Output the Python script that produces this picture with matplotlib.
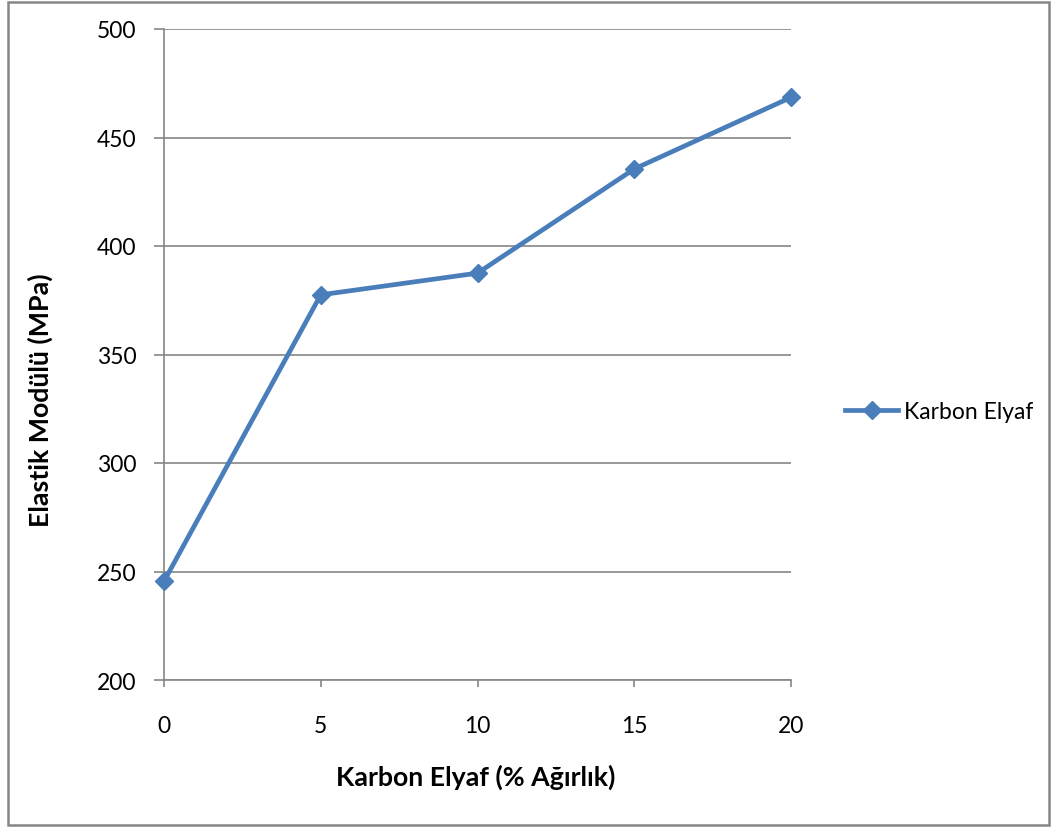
import numpy as np
import matplotlib
matplotlib.use('Agg')
from matplotlib import pyplot as plt
from matplotlib.patches import Rectangle

# data
fiber_pct = [0, 5, 10, 15, 20]
modulus = [245.5, 377.5, 387.5, 435.5, 468.5]
y_ticks = [200, 250, 300, 350, 400, 450, 500]
series_name = "Karbon Elyaf"

plt.rcParams['font.family'] = ['Lato', 'DejaVu Sans']
grey = '#868686'
blue = '#4a7ebb'

fig = plt.figure(figsize=(10.54, 8.29), dpi=100)
ax = fig.add_axes([164/1054, 1 - 681/829, (791-164)/1054, (681-30)/829])

ax.plot(fiber_pct, modulus, color=blue, lw=3.4, marker='D', markersize=9,
        label=series_name, clip_on=False, zorder=3)

ax.set_xlim(0, 20)
ax.set_ylim(200, 500)
ax.set_xticks(fiber_pct)
ax.set_yticks(y_ticks)
ax.yaxis.grid(True, color=grey, lw=1.2)
ax.set_axisbelow(True)

for side in ('top', 'right'):
    ax.spines[side].set_visible(False)
for side in ('left', 'bottom'):
    ax.spines[side].set_color(grey)
    ax.spines[side].set_linewidth(1.2)

ax.tick_params(axis='y', length=7, width=1.2, color=grey, pad=13, labelsize=16.5)
ax.tick_params(axis='x', length=5, width=1.2, color=grey, pad=20, labelsize=16.5)

fig.text(476/1054, 1 - 777/829, "Karbon Elyaf (% Ağırlık)", ha='center', va='center',
         fontsize=19.3, fontweight='bold')
fig.text(40/1054, 1 - 400/829, "Elastik Modülü (MPa)", ha='center', va='center',
         rotation=90, fontsize=19.3, fontweight='bold')

ax.legend(loc='center left', bbox_to_anchor=(836/1054, 1 - 413/829),
          bbox_transform=fig.transFigure, frameon=False, fontsize=16.5,
          handlelength=2.3, handletextpad=0.25, borderaxespad=0)

fig.patches.append(Rectangle((8/1054, 3/829), (1049-8)/1054, (826-3)/829,
                             transform=fig.transFigure, fill=False,
                             edgecolor=grey, lw=1.8))

fig.savefig('out.png', dpi=100)
